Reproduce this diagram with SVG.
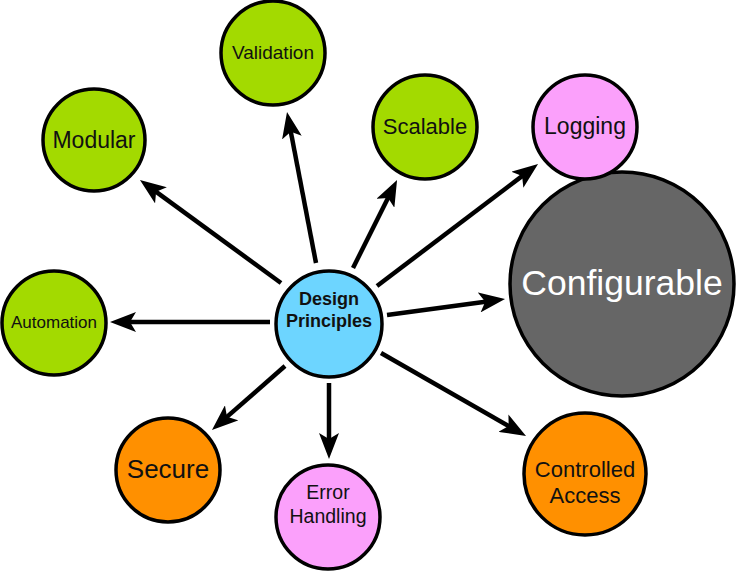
<svg xmlns="http://www.w3.org/2000/svg" width="737" height="572" viewBox="0 0 737 572">
<defs>
<style>
.n{stroke:#000;stroke-width:3.5}
.g{fill:#A3DA00}
.b{fill:#6DD5FF}
.p{fill:#FBA0FB}
.o{fill:#FF9000}
.k{fill:#666666}
text{font-family:"Liberation Sans",Arial,sans-serif;text-anchor:middle;fill:#111}
.c line{stroke:#000;stroke-width:4.5;marker-end:url(#ah)}
</style>
<marker id="ah" markerUnits="userSpaceOnUse" markerWidth="26" markerHeight="20" viewBox="0 0 26 20" refX="8" refY="10" orient="auto">
<path d="M0,0 L26,10 L0,20 L6,10 z" fill="#000"/>
</marker>
</defs>
<rect width="737" height="572" fill="#fff"/>
<g class="c" id="connectors">
<line x1="281" y1="283" x2="154.5" y2="190.6"/>
<line x1="316" y1="263" x2="290.4" y2="129.7"/>
<line x1="353" y1="268" x2="389.0" y2="196.1"/>
<line x1="377" y1="286" x2="523.7" y2="174.9"/>
<line x1="387" y1="315" x2="487.2" y2="301.4"/>
<line x1="381" y1="353" x2="510.4" y2="427.1"/>
<line x1="329" y1="383" x2="329" y2="441"/>
<line x1="285" y1="366" x2="225.5" y2="418.1"/>
<line x1="270" y1="322" x2="128" y2="322"/>
</g>
<g id="center">
<circle class="n b" cx="329" cy="324" r="53"/>
<text x="329" y="305" font-size="18" font-weight="bold">Design</text>
<text x="329" y="327" font-size="18" font-weight="bold">Principles</text>
</g>
<g id="validation">
<circle class="n g" cx="273" cy="53" r="52"/>
<text x="273" y="59" font-size="19">Validation</text>
</g>
<g id="modular">
<circle class="n g" cx="94" cy="140" r="51"/>
<text x="94" y="148" font-size="23">Modular</text>
</g>
<g id="scalable">
<circle class="n g" cx="425" cy="127" r="52"/>
<text x="425" y="134" font-size="22">Scalable</text>
</g>
<g id="configurable">
<circle class="n k" cx="622" cy="284" r="112"/>
<text x="622" y="295" font-size="35.5" style="fill:#fff">Configurable</text>
</g>
<g id="logging">
<circle class="n p" cx="585" cy="127" r="52"/>
<text x="585" y="134" font-size="23">Logging</text>
</g>
<g id="automation">
<circle class="n g" cx="54" cy="323" r="52"/>
<text x="54" y="328" font-size="17">Automation</text>
</g>
<g id="secure">
<circle class="n o" cx="168" cy="470" r="52"/>
<text x="168" y="478" font-size="26">Secure</text>
</g>
<g id="error-handling">
<circle class="n p" cx="328" cy="517" r="52"/>
<text x="328" y="499" font-size="19.5">Error</text>
<text x="328" y="523" font-size="19.5">Handling</text>
</g>
<g id="controlled-access">
<circle class="n o" cx="585" cy="474" r="61"/>
<text x="585" y="477" font-size="22">Controlled</text>
<text x="585" y="503" font-size="22">Access</text>
</g>
</svg>
